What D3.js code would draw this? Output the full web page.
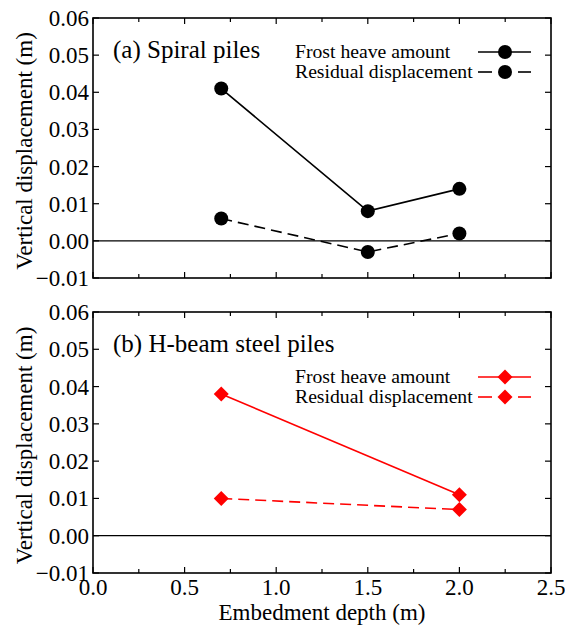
<!DOCTYPE html>
<html>
<head>
<meta charset="utf-8">
<script src="https://cdn.jsdelivr.net/npm/d3@7"></script>
<style>
  body { margin: 0; background: #fff; }
</style>
</head>
<body>
<div id="chart"></div>
<script>
// embedment depths (m)
const depthSpiral = [0.7, 1.5, 2.0];
const depthHBeam = [0.7, 2.0];
// vertical displacement (m)
const spiralFrost = [0.041, 0.008, 0.014];
const spiralResidual = [0.006, -0.003, 0.002];
const hbeamFrost = [0.038, 0.011];
const hbeamResidual = [0.010, 0.007];

const xTicks = [0.0, 0.5, 1.0, 1.5, 2.0, 2.5];
const xMinorTicks = [0.25, 0.75, 1.25, 1.75, 2.25];
const yTicks = [-0.01, 0.00, 0.01, 0.02, 0.03, 0.04, 0.05, 0.06];
const seriesNames = [`Frost heave amount`, `Residual displacement`];
const panelTitles = [`(a) Spiral piles`, `(b) H-beam steel piles`];

const W = 565, H = 626;
const left = 93, right = 551;
const serif = `'Liberation Serif', 'Times New Roman', Times, 'DejaVu Serif', serif`;

const svg = d3.select(`#chart`).append(`svg`)
  .attr(`width`, W)
  .attr(`height`, H)
  .attr(`font-family`, serif)
  .style(`font-family`, serif);

const x = d3.scaleLinear().domain([0, 2.5]).range([left, right]);

const panels = [
  {
    top: 18, bottom: 278, title: panelTitles[0], color: `#000`, shape: `circle`,
    depth: depthSpiral, frost: spiralFrost, residual: spiralResidual,
    titleY: 58, legendY: [52, 72], showX: false
  },
  {
    top: 312, bottom: 573, title: panelTitles[1], color: `#ff0000`, shape: `diamond`,
    depth: depthHBeam, frost: hbeamFrost, residual: hbeamResidual,
    titleY: 352, legendY: [377, 397], showX: true
  }
];

const drawMarker = (g, shape, color, cx, cy) => {
  if (shape === `circle`) {
    g.append(`circle`)
      .attr(`cx`, cx).attr(`cy`, cy).attr(`r`, 7)
      .attr(`fill`, color);
  } else {
    const s = 7.5;
    g.append(`path`)
      .attr(`d`, `M${cx},${cy - s}L${cx + s},${cy}L${cx},${cy + s}L${cx - s},${cy}Z`)
      .attr(`fill`, color);
  }
};

const addText = (g, size) => g.append(`text`)
  .attr(`font-family`, serif)
  .attr(`font-size`, size)
  .attr(`fill`, `#000`);

panels.forEach(p => {
  const y = d3.scaleLinear().domain([-0.01, 0.06]).range([p.bottom, p.top]);
  const g = svg.append(`g`);

  // zero line
  g.append(`line`)
    .attr(`x1`, left).attr(`x2`, right)
    .attr(`y1`, y(0)).attr(`y2`, y(0))
    .attr(`stroke`, `#000`).attr(`stroke-width`, 1.2);

  // ticks, all pointing inward
  const tickG = g.append(`g`).attr(`stroke`, `#000`).attr(`stroke-width`, 1.2);
  xTicks.forEach(t => {
    tickG.append(`line`).attr(`x1`, x(t)).attr(`x2`, x(t)).attr(`y1`, p.bottom).attr(`y2`, p.bottom - 6);
    tickG.append(`line`).attr(`x1`, x(t)).attr(`x2`, x(t)).attr(`y1`, p.top).attr(`y2`, p.top + 6);
  });
  xMinorTicks.forEach(t => {
    tickG.append(`line`).attr(`x1`, x(t)).attr(`x2`, x(t)).attr(`y1`, p.bottom).attr(`y2`, p.bottom - 4);
    tickG.append(`line`).attr(`x1`, x(t)).attr(`x2`, x(t)).attr(`y1`, p.top).attr(`y2`, p.top + 4);
  });
  yTicks.forEach(t => {
    tickG.append(`line`).attr(`x1`, left).attr(`x2`, left + 6).attr(`y1`, y(t)).attr(`y2`, y(t));
    tickG.append(`line`).attr(`x1`, right).attr(`x2`, right - 6).attr(`y1`, y(t)).attr(`y2`, y(t));
  });

  // frame
  g.append(`rect`)
    .attr(`x`, left).attr(`y`, p.top)
    .attr(`width`, right - left).attr(`height`, p.bottom - p.top)
    .attr(`fill`, `none`).attr(`stroke`, `#000`).attr(`stroke-width`, 1.6);

  // y tick labels
  yTicks.forEach(t => {
    addText(g, 23)
      .attr(`x`, left - 4)
      .attr(`y`, y(t) + 8)
      .attr(`text-anchor`, `end`)
      .text(d3.format(`.2f`)(t));
  });

  if (p.showX) {
    xTicks.forEach(t => {
      addText(g, 23)
        .attr(`x`, x(t))
        .attr(`y`, 595)
        .attr(`text-anchor`, `middle`)
        .text(d3.format(`.1f`)(t));
    });
    addText(svg, 23)
      .attr(`x`, (left + right) / 2)
      .attr(`y`, 620)
      .attr(`text-anchor`, `middle`)
      .text(`Embedment depth (m)`);
  }

  // y axis label
  addText(g, 23)
    .attr(`transform`, `translate(32,${(p.top + p.bottom) / 2 + 3}) rotate(-90)`)
    .attr(`text-anchor`, `middle`)
    .text(`Vertical displacement (m)`);

  // panel title
  addText(g, 25)
    .attr(`x`, 113).attr(`y`, p.titleY)
    .text(p.title);

  // series
  const line = d3.line().x(d => x(d[0])).y(d => y(d[1]));
  const frostPts = p.depth.map((d, i) => [d, p.frost[i]]);
  const residPts = p.depth.map((d, i) => [d, p.residual[i]]);

  g.append(`path`).datum(frostPts)
    .attr(`d`, line).attr(`fill`, `none`)
    .attr(`stroke`, p.color).attr(`stroke-width`, 1.6);
  g.append(`path`).datum(residPts)
    .attr(`d`, line).attr(`fill`, `none`)
    .attr(`stroke`, p.color).attr(`stroke-width`, 1.6)
    .attr(`stroke-dasharray`, `11,6`);

  frostPts.concat(residPts).forEach(d => drawMarker(g, p.shape, p.color, x(d[0]), y(d[1])));

  // legend
  seriesNames.forEach((name, i) => {
    const ly = p.legendY[i];
    addText(g, 19.7)
      .attr(`x`, 295).attr(`y`, ly + 6)
      .text(name);
    if (i === 0) {
      g.append(`line`)
        .attr(`x1`, 478).attr(`x2`, 531).attr(`y1`, ly).attr(`y2`, ly)
        .attr(`stroke`, p.color).attr(`stroke-width`, 1.6);
    } else {
      [[478, 492], [518, 531]].forEach(seg => {
        g.append(`line`)
          .attr(`x1`, seg[0]).attr(`x2`, seg[1]).attr(`y1`, ly).attr(`y2`, ly)
          .attr(`stroke`, p.color).attr(`stroke-width`, 1.6);
      });
    }
    drawMarker(g, p.shape, p.color, 505, ly);
  });
});
</script>
</body>
</html>
